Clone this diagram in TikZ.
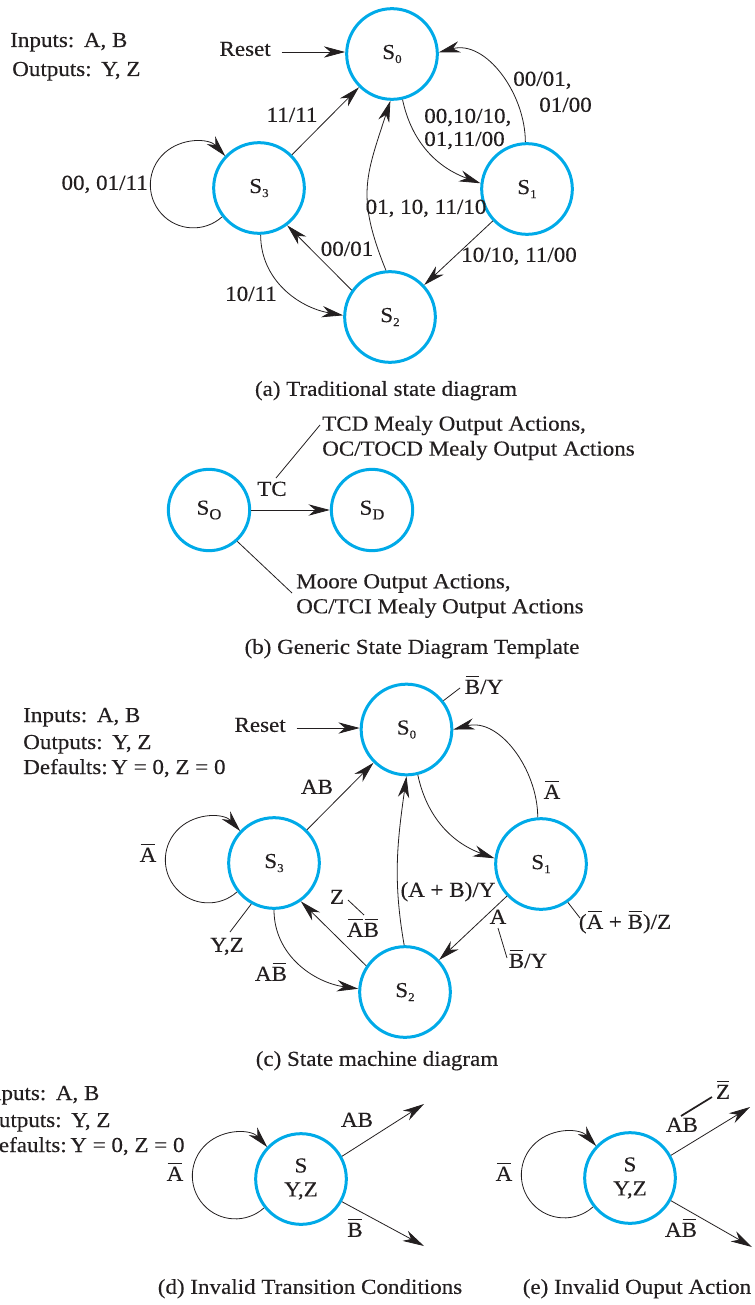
\documentclass[tikz,border=0pt]{standalone}
\usepackage{fontspec}
\setmainfont{Liberation Serif}[FakeStretch=1.08,FakeBold=0.3]
\usetikzlibrary{arrows.meta}
\definecolor{sblue}{RGB}{0,170,232}
\definecolor{ink}{RGB}{35,31,32}
\newcommand\mysub[1]{\raisebox{-3pt}{\fontsize{9}{9}\selectfont #1}}
\newcommand\mysubb[1]{\raisebox{-3.5pt}{\fontsize{11.5}{11.5}\selectfont #1}}
\newcommand\ob[1]{\setbox0=\hbox{#1}\hbox{\rlap{\hbox to \wd0{\hfil\vrule height \dimexpr\ht0+2.7pt\relax depth -\dimexpr\ht0+2pt\relax width \dimexpr\wd0-1.6pt\relax\hfil}}\box0}}
\begin{document}
\begin{tikzpicture}[x=0.75pt,y=0.75pt,
  font=\fontsize{16}{18.75}\selectfont,
  every node/.style={text=ink, inner sep=0pt},
  stateA/.style={circle, draw=sblue, line width=2.25pt, minimum size=68pt, inner sep=0pt},
  stateB/.style={circle, draw=sblue, line width=2.25pt, minimum size=61pt, inner sep=0pt},
  arr/.style={draw=ink, line width=0.6pt, -{Stealth[length=16pt,width=8.5pt,inset=5pt]}},
  lead/.style={draw=ink, line width=0.6pt},
  lbl/.style={text height=1.5ex, text depth=0.25ex},
  info/.style={anchor=base west}]
\useasboundingbox (0,0) rectangle (755,-1305);

% ---------------- (a) ----------------
\node[info] (inA) at (10,-47) {Inputs:\hspace{0.45em}A, B};
\node[info] (outA) at (12,-76) {Outputs:\hspace{0.45em}Y, Z};
\node[stateA] (S0a) at (392,-54) {S\mysub{0}};
\node[stateA] (S1a) at (527,-189) {S\mysub{1}};
\node[stateA] (S2a) at (390,-317) {S\mysub{2}};
\node[stateA] (S3a) at (259,-188) {S\mysub{3}};
\node[lbl, anchor=east] (resetA) at (271,-52) {Reset};
\draw[arr] ([xshift=8pt]resetA.east) -- (resetA.east -| S0a.west);
\draw[arr] (S3a) -- (S0a);
\node[lbl] (l11) at (292,-118) {11/11};
\draw[arr] (S3a.218) arc[start angle=-48, end angle=-318, radius=43];
\node[lbl, anchor=east] (lloopa) at (148,-186) {00, 01/11};
\draw[arr] (S0a.-77) to[out=-78, in=160] (S1a.173);
\node[anchor=west, align=left, font=\fontsize{16}{17.25}\selectfont] (l01a) at (424,-129) {00,10/10,\\01,11/00};
\draw[arr] (S1a.92) to[out=90, in=15] (S0a.2);
\node[lbl, anchor=west] (l10a) at (513,-82) {00/01,};
\node[lbl, anchor=west] (l10b) at (539,-108) {01/00};
\draw[arr] (S2a.95) to[out=112, in=-108, looseness=1.2] (S0a.-92);
\node[lbl] (l20a) at (426,-210) {01, 10, 11/10};
\draw[arr] (S1a) -- (S2a);
\node[lbl] (l12a) at (519,-258) {10/10, 11/00};
\draw[arr] (S2a.145) -- (S3a.-53);
\node[lbl] (l23a) at (347,-252) {00/01};
\draw[arr] (S3a.-88) to[out=-90, in=170] (S2a.178);
\node[lbl] (l32a) at (251,-297) {10/11};
\node[lbl] (capa) at (386,-392) {(a) Traditional state diagram};

% ---------------- (b) ----------------
\node[stateB] (SO) at (209,-510) {S\mysubb{O}};
\node[stateB] (SD) at (372,-510) {S\mysubb{D}};
\draw[arr] (SO) -- (SD);
\node[lbl] (tc) at (272,-492) {TC};
\coordinate (tcA) at (276,-478);
\coordinate (tcB) at (320,-425);
\draw[lead] (tcA) -- (tcB);
\node[anchor=west, align=left] (tcd) at (322,-438) {TCD Mealy Output Actions,\\OC/TOCD Mealy Output Actions};
\coordinate (mo) at (292,-593);
\draw[lead] (SO.-48) -- (mo);
\node[anchor=west, align=left] (moore) at (296,-596) {Moore Output Actions,\\OC/TCI Mealy Output Actions};
\node[lbl] (capb) at (412,-650) {(b) Generic State Diagram Template};

% ---------------- (c) ----------------
\node[info] (inC) at (23,-722) {Inputs:\hspace{0.45em}A, B};
\node[info] (outC) at (23,-749) {Outputs:\hspace{0.45em}Y, Z};
\node[info] (defC) at (23,-774) {Defaults:\,Y = 0, Z = 0};
\node[stateA] (S0c) at (406.5,-729.5) {S\mysub{0}};
\node[stateA] (S1c) at (541,-864) {S\mysub{1}};
\node[stateA] (S2c) at (405,-992) {S\mysub{2}};
\node[stateA] (S3c) at (274,-863) {S\mysub{3}};
\node[lbl, anchor=east] (resetC) at (286,-728) {Reset};
\draw[arr] ([xshift=8pt]resetC.east) -- (resetC.east -| S0c.west);
\coordinate (byc) at (460,-688);
\draw[lead] (S0c.38) -- (byc);
\node[lbl] (byl) at (484,-690) {\ob{B}/Y};
\draw[arr] (S3c) -- (S0c);
\node[lbl] (abc) at (317,-790) {AB};
\draw[arr] (S3c.218) arc[start angle=-48, end angle=-318, radius=43];
\node[lbl] (nac) at (148,-858) {\ob{A}};
\draw[arr] (S0c.-76) to[out=-78, in=160] (S1c.173);
\draw[arr] (S1c.94) to[out=90, in=15] (S0c.0);
\node[lbl] (na2) at (552,-795) {\ob{A}};
\draw[arr] (S2c.91) to[out=100, in=-98] (S0c.-90);
\node[lbl] (apb) at (448,-893) {(A + B)/Y};
\draw[arr] (S1c) -- (S2c);
\node[lbl] (ac) at (498,-920) {A};
\coordinate (ac1) at (498,-928);
\coordinate (ac2) at (507,-958);
\draw[lead] (ac1) -- (ac2);
\node[lbl] (by2) at (528,-964) {\ob{B}/Y};
\coordinate (s1c) at (580,-918);
\draw[lead] (S1c.-55) -- (s1c);
\node[lbl] (nab) at (625,-925) {(\ob{A} + \ob{B})/Z};
\draw[arr] (S2c.146) -- (S3c.-55);
\node[lbl] (zc) at (337,-900) {Z};
\coordinate (zc1) at (348,-900);
\coordinate (zc2) at (364,-915);
\draw[lead] (zc1) -- (zc2);
\node[lbl] (nanb) at (363,-933) {\ob{A}\ob{B}};
\coordinate (yz) at (230,-932);
\draw[lead] (S3c.-119) -- (yz);
\node[lbl] (yzl) at (227,-948) {Y,Z};
\draw[arr] (S3c.-90) to[out=-90, in=172] (S2c.176);
\node[lbl] (anb) at (271,-977) {A\ob{B}};
\node[lbl] (capc) at (377,-1062) {(c) State machine diagram};

% ---------------- (d) ----------------
\node[info] (inD) at (-18,-1100) {Inputs:\hspace{0.45em}A, B};
\node[info] (outD) at (-18,-1127) {Outputs:\hspace{0.45em}Y, Z};
\node[info] (defD) at (-18,-1152) {Defaults:\,Y = 0, Z = 0};
\node[stateA, align=center, font=\fontsize{16}{18}\selectfont] (Sd) at (301,-1179) {S\\Y,Z};
\draw[arr] (Sd.218) arc[start angle=-48, end angle=-318, radius=43];
\node[lbl] (nad) at (175,-1177) {\ob{A}};
\coordinate (dU) at (424,-1104);
\coordinate (dL) at (424,-1246);
\draw[arr] (Sd.29) -- (dU);
\draw[arr] (Sd.-29) -- (dL);
\node[lbl] (abd) at (357,-1123) {AB};
\node[lbl] (nbd) at (355,-1233) {\ob{B}};
\node[lbl] (capd) at (310,-1290) {(d) Invalid Transition Conditions};

% ---------------- (e) ----------------
\node[stateA, align=center, font=\fontsize{16}{18}\selectfont] (Se) at (630,-1178) {S\\Y,Z};
\draw[arr] (Se.218) arc[start angle=-48, end angle=-318, radius=43];
\node[lbl] (nae) at (504,-1177) {\ob{A}};
\coordinate (eU) at (750,-1107);
\coordinate (eL) at (752,-1247);
\draw[arr] (Se.29) -- (eU);
\draw[arr] (Se.-29) -- (eL);
\node[lbl] (abe) at (682,-1128) {AB};
\node[lbl] (nze) at (723,-1095) {\ob{Z}};
\coordinate (ze1) at (681,-1116);
\coordinate (ze2) at (712,-1097);
\draw[lead, line width=1.3pt] (ze1) -- (ze2);
\node[lbl] (anbe) at (681,-1233) {A\ob{B}};
\node[lbl] (cape) at (637,-1290) {(e) Invalid Ouput Action};
\end{tikzpicture}
\end{document}
